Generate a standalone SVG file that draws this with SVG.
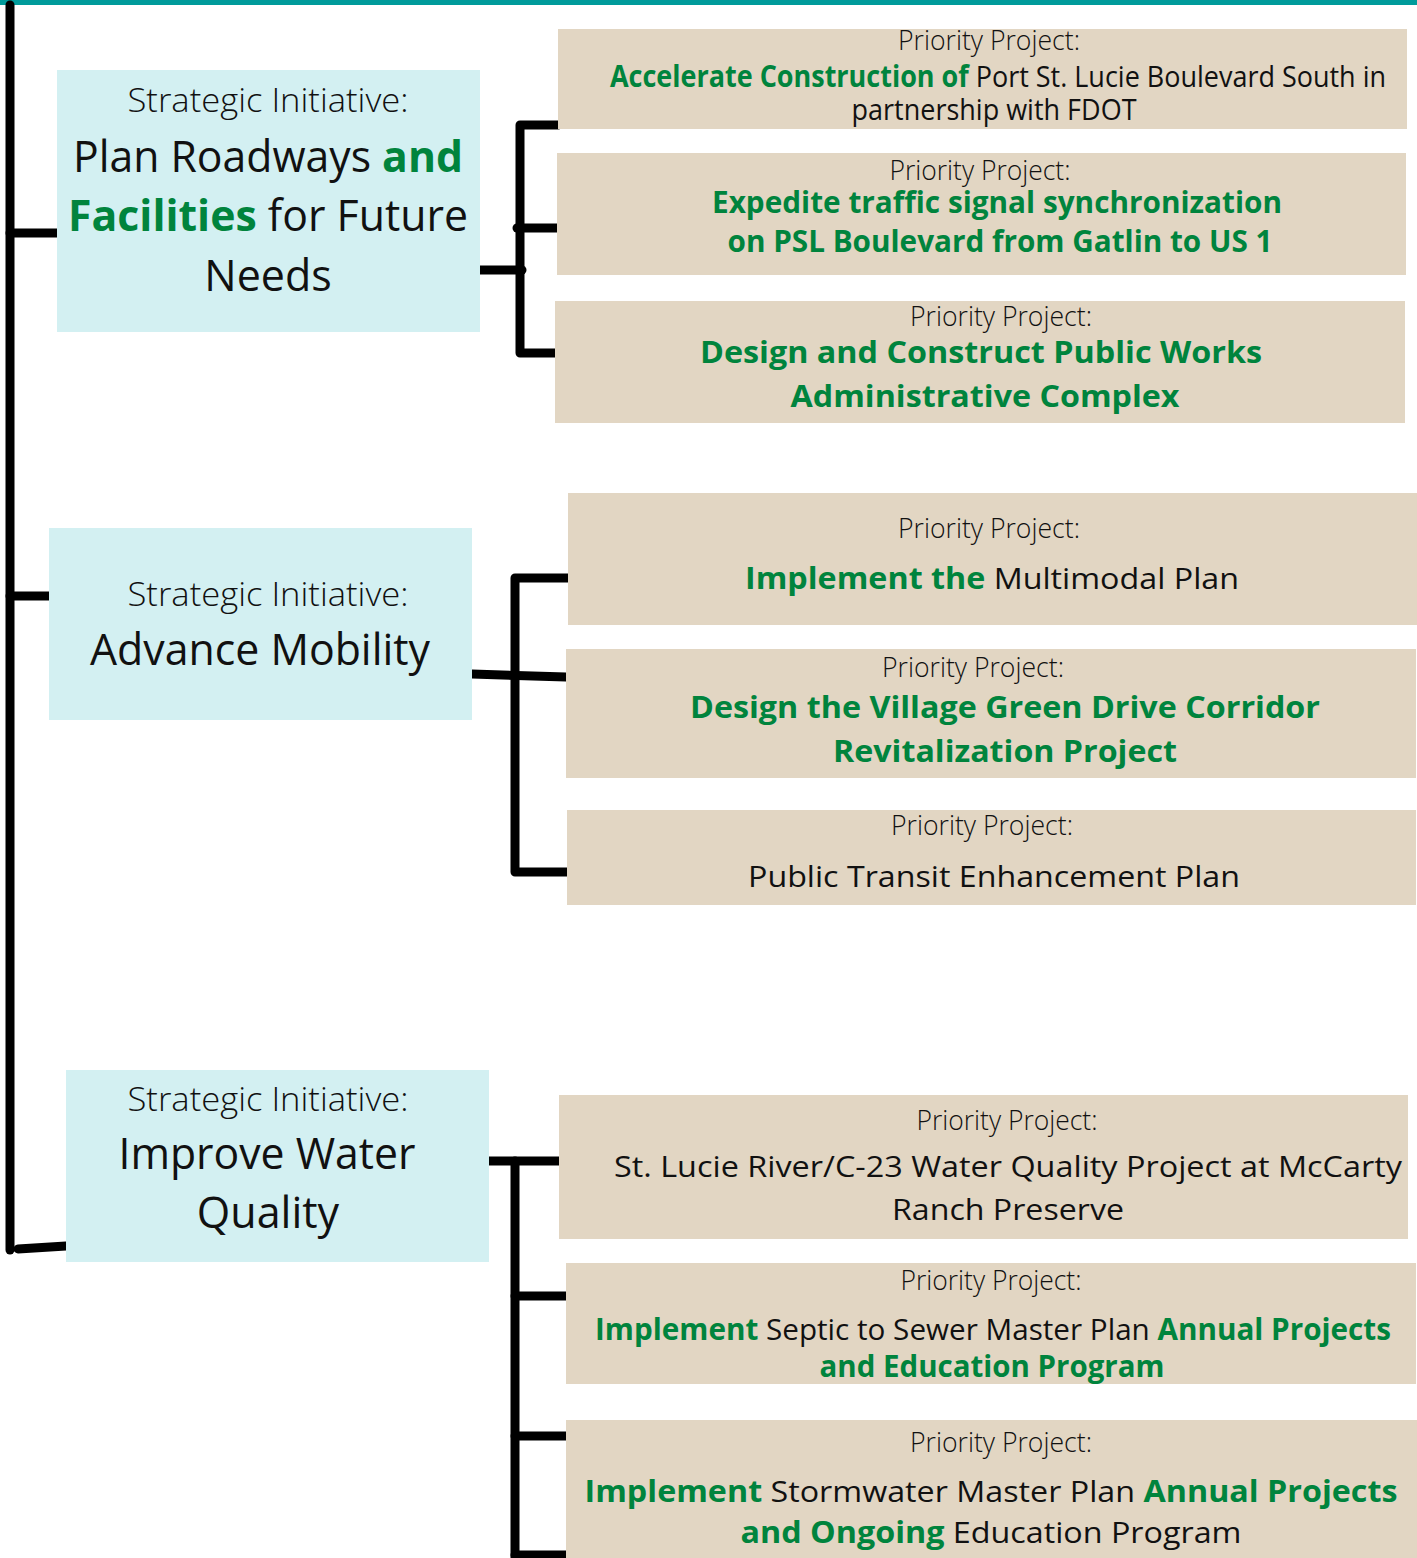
<svg xmlns="http://www.w3.org/2000/svg" width="1417" height="1558" viewBox="0 0 1417 1558">
<style>
text{font-family:"Open Sans","Liberation Sans",sans-serif;text-anchor:middle;fill:#111}
.si{font-weight:300;font-size:33px}
.tt{font-weight:400;font-size:43px}
.pp{font-weight:300;font-size:27px}
.pl{font-weight:400;font-size:30px}
.g{font-weight:700;fill:#00843d}
.k{font-weight:400;fill:#111}
.init{fill:#d3f0f2}
.proj{fill:#e2d6c3}
.con{stroke:#000;stroke-width:9;fill:none;stroke-linecap:round;stroke-linejoin:round}
</style>
<rect x="0" y="0" width="1417" height="1558" fill="#fff"/>
<rect x="0" y="0" width="1417" height="5" fill="#009b9b"/>
<g id="connectors" class="con">
<path d="M10,5 V1250"/>
<path d="M10,233 H57"/>
<path d="M10,596 H49"/>
<path d="M18,1249 L66,1246"/>
<path d="M558,125 H520 V353 H555"/>
<path d="M517,228 H557"/>
<path d="M480,270 H522"/>
<path d="M568,578 H515 V872 H567"/>
<path d="M472,674 L566,677"/>
<path d="M489,1161 H559"/>
<path d="M515,1161 V1560"/>
<path d="M515,1296 H566"/>
<path d="M515,1436 H566"/>
<path d="M515,1555 H566"/>
</g>
<g id="init1">
<rect class="init" x="57" y="70" width="423" height="262"/>
<text class="si" x="268" y="112" textLength="281" lengthAdjust="spacingAndGlyphs">Strategic Initiative:</text>
<text class="tt" x="268" y="172" textLength="390" lengthAdjust="spacingAndGlyphs">Plan Roadways <tspan class="g">and</tspan></text>
<text class="tt" x="268" y="231" textLength="400" lengthAdjust="spacingAndGlyphs"><tspan class="g">Facilities</tspan> for Future</text>
<text class="tt" x="268" y="291">Needs</text>
</g>
<g id="init2">
<rect class="init" x="49" y="528" width="423" height="192"/>
<text class="si" x="268" y="606" textLength="281" lengthAdjust="spacingAndGlyphs">Strategic Initiative:</text>
<text class="tt" x="260" y="665" textLength="340" lengthAdjust="spacingAndGlyphs">Advance Mobility</text>
</g>
<g id="init3">
<rect class="init" x="66" y="1070" width="423" height="192"/>
<text class="si" x="268" y="1111" textLength="281" lengthAdjust="spacingAndGlyphs">Strategic Initiative:</text>
<text class="tt" x="267" y="1169" textLength="297" lengthAdjust="spacingAndGlyphs">Improve Water</text>
<text class="tt" x="268" y="1228">Quality</text>
</g>
<g id="proj1">
<rect class="proj" x="558" y="29" width="849" height="100"/>
<text class="pp" x="989" y="50" textLength="182" lengthAdjust="spacingAndGlyphs">Priority Project:</text>
<text class="pl" x="998" y="87" textLength="776" lengthAdjust="spacingAndGlyphs"><tspan class="g">Accelerate Construction of</tspan> Port St. Lucie Boulevard South in</text>
<text class="pl" x="994" y="120" textLength="285" lengthAdjust="spacingAndGlyphs">partnership with FDOT</text>
</g>
<g id="proj2">
<rect class="proj" x="557" y="153" width="849" height="122"/>
<text class="pp" x="980" y="180" textLength="181" lengthAdjust="spacingAndGlyphs">Priority Project:</text>
<text class="pl g" x="997" y="213" textLength="570" lengthAdjust="spacingAndGlyphs">Expedite traffic signal synchronization</text>
<text class="pl g" x="1000" y="252" textLength="545" lengthAdjust="spacingAndGlyphs">on PSL Boulevard from Gatlin to US 1</text>
</g>
<g id="proj3">
<rect class="proj" x="555" y="301" width="850" height="122"/>
<text class="pp" x="1001" y="326" textLength="182" lengthAdjust="spacingAndGlyphs">Priority Project:</text>
<text class="pl g" x="981" y="363" textLength="562" lengthAdjust="spacingAndGlyphs">Design and Construct Public Works</text>
<text class="pl g" x="985" y="407" textLength="389" lengthAdjust="spacingAndGlyphs">Administrative Complex</text>
</g>
<g id="proj4">
<rect class="proj" x="568" y="493" width="849" height="132"/>
<text class="pp" x="989" y="538" textLength="182" lengthAdjust="spacingAndGlyphs">Priority Project:</text>
<text class="pl" x="992" y="589" textLength="494" lengthAdjust="spacingAndGlyphs"><tspan class="g">Implement the</tspan> Multimodal Plan</text>
</g>
<g id="proj5">
<rect class="proj" x="566" y="649" width="850" height="129"/>
<text class="pp" x="973" y="677" textLength="182" lengthAdjust="spacingAndGlyphs">Priority Project:</text>
<text class="pl g" x="1005" y="718" textLength="630" lengthAdjust="spacingAndGlyphs">Design the Village Green Drive Corridor</text>
<text class="pl g" x="1005" y="762" textLength="344" lengthAdjust="spacingAndGlyphs">Revitalization Project</text>
</g>
<g id="proj6">
<rect class="proj" x="567" y="810" width="849" height="95"/>
<text class="pp" x="982" y="835" textLength="182" lengthAdjust="spacingAndGlyphs">Priority Project:</text>
<text class="pl" x="994" y="887" textLength="492" lengthAdjust="spacingAndGlyphs">Public Transit Enhancement Plan</text>
</g>
<g id="proj7">
<rect class="proj" x="559" y="1095" width="849" height="144"/>
<text class="pp" x="1007" y="1130" textLength="181" lengthAdjust="spacingAndGlyphs">Priority Project:</text>
<text class="pl" x="1008" y="1177" textLength="788" lengthAdjust="spacingAndGlyphs">St. Lucie River/C-23 Water Quality Project at McCarty</text>
<text class="pl" x="1008" y="1220" textLength="232" lengthAdjust="spacingAndGlyphs">Ranch Preserve</text>
</g>
<g id="proj8">
<rect class="proj" x="566" y="1263" width="850" height="121"/>
<text class="pp" x="991" y="1290" textLength="181" lengthAdjust="spacingAndGlyphs">Priority Project:</text>
<text class="pl" x="993" y="1340" textLength="796" lengthAdjust="spacingAndGlyphs"><tspan class="g">Implement</tspan> Septic to Sewer Master Plan <tspan class="g">Annual Projects</tspan></text>
<text class="pl g" x="992" y="1377" textLength="345" lengthAdjust="spacingAndGlyphs">and Education Program</text>
</g>
<g id="proj9">
<rect class="proj" x="566" y="1420" width="851" height="138"/>
<text class="pp" x="1001" y="1452" textLength="182" lengthAdjust="spacingAndGlyphs">Priority Project:</text>
<text class="pl" x="991" y="1502" textLength="813" lengthAdjust="spacingAndGlyphs"><tspan class="g">Implement</tspan> Stormwater Master Plan <tspan class="g">Annual Projects</tspan></text>
<text class="pl" x="991" y="1543" textLength="501" lengthAdjust="spacingAndGlyphs"><tspan class="g">and Ongoing</tspan> Education Program</text>
</g>
</svg>
